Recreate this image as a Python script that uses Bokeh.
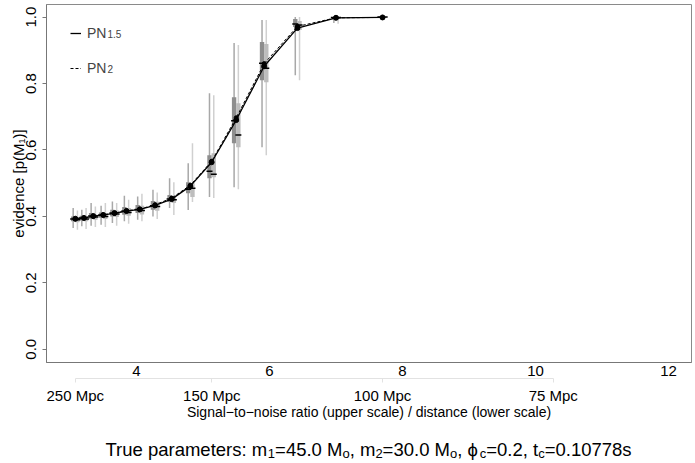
import math
from bokeh.plotting import figure
from bokeh.layouts import column
from bokeh.models import (LinearAxis, FixedTicker, Range1d, Label, Legend, LegendItem,
                          PrintfTickFormatter, ColumnDataSource)
from bokeh.transform import dodge
from bokeh.embed import file_html
from bokeh.resources import INLINE

# ---------------- data ----------------
snr = [3.08, 3.21, 3.35, 3.50, 3.67, 3.85, 4.05, 4.28, 4.53, 4.81, 5.13, 5.50, 5.92, 6.42, 7.00, 7.70]
pn15 = [0.393, 0.395, 0.401, 0.404, 0.410, 0.416, 0.421, 0.433, 0.452, 0.491, 0.563, 0.690, 0.852, 0.967, 0.998, 0.999]
pn2 = [0.392, 0.396, 0.400, 0.405, 0.409, 0.417, 0.422, 0.435, 0.455, 0.494, 0.566, 0.697, 0.860, 0.972, 0.998, 0.999]

# box statistics, PN1.5 (dark boxes)
a_lo = [0.365, 0.370, 0.372, 0.375, 0.380, 0.385, 0.390, 0.400, 0.425, 0.419, 0.458, 0.488, 0.608, 0.825, 0.982, 0.997]
a_q1 = [0.385, 0.388, 0.393, 0.396, 0.400, 0.405, 0.410, 0.420, 0.443, 0.470, 0.515, 0.620, 0.810, 0.970, 0.996, 0.999]
a_md = [0.392, 0.395, 0.401, 0.404, 0.410, 0.416, 0.421, 0.432, 0.452, 0.482, 0.536, 0.688, 0.861, 0.979, 0.999, 1.000]
a_q3 = [0.400, 0.402, 0.410, 0.412, 0.420, 0.428, 0.434, 0.446, 0.464, 0.503, 0.584, 0.759, 0.925, 0.994, 1.000, 1.000]
a_hi = [0.425, 0.420, 0.440, 0.432, 0.445, 0.462, 0.460, 0.480, 0.515, 0.560, 0.771, 0.922, 0.991, 1.000, 1.000, 1.000]
# box statistics, PN2 (light boxes)
b_lo = [0.360, 0.362, 0.368, 0.368, 0.372, 0.378, 0.385, 0.392, 0.404, 0.443, 0.455, 0.482, 0.584, 0.810, 0.980, 0.997]
b_q1 = [0.382, 0.385, 0.390, 0.392, 0.398, 0.402, 0.406, 0.417, 0.440, 0.458, 0.518, 0.608, 0.804, 0.961, 0.995, 0.999]
b_md = [0.390, 0.392, 0.398, 0.400, 0.407, 0.412, 0.418, 0.430, 0.450, 0.485, 0.527, 0.645, 0.846, 0.976, 0.999, 1.000]
b_q3 = [0.398, 0.400, 0.406, 0.410, 0.418, 0.425, 0.432, 0.444, 0.462, 0.500, 0.590, 0.741, 0.919, 0.988, 1.000, 1.000]
b_hi = [0.418, 0.425, 0.430, 0.440, 0.440, 0.450, 0.468, 0.472, 0.503, 0.620, 0.765, 0.916, 0.991, 1.000, 1.000, 1.000]

snr_ticks = [4, 6, 8, 10, 12]
y_ticks = [0.0, 0.2, 0.4, 0.6, 0.8, 1.0]
dist_snr = [3.08, 5.133, 7.70, 10.267]
dist_labels = ["250 Mpc", "150 Mpc", "100 Mpc", "75 Mpc"]

FONT = "Liberation Sans"

src = ColumnDataSource(dict(snr=snr, pn15=pn15, pn2=pn2,
                            a_lo=a_lo, a_q1=a_q1, a_md=a_md, a_q3=a_q3, a_hi=a_hi,
                            b_lo=b_lo, b_q1=b_q1, b_md=b_md, b_q3=b_q3, b_hi=b_hi))

MAIN_H = 425
p = figure(width=695, height=MAIN_H, output_backend="svg", toolbar_location=None,
           x_range=Range1d(2.647, 12.346), y_range=Range1d(-0.04, 1.038),
           min_border_left=46, min_border_right=4, min_border_top=4, min_border_bottom=63,
           x_axis_location=None, y_axis_location=None)
p.grid.visible = False
p.outline_line_color = "#8a8a8a"
p.outline_line_width = 1

# y axis
yax = LinearAxis(ticker=FixedTicker(ticks=y_ticks), formatter=PrintfTickFormatter(format="%.1f"))
yax.major_label_orientation = "vertical"
yax.major_tick_out = 4
yax.major_tick_in = 0
yax.minor_tick_out = 0
yax.minor_tick_in = 0
yax.major_label_standoff = 6
yax.axis_line_color = "#777777"
yax.major_tick_line_color = "#777777"
yax.major_label_text_font = FONT
yax.major_label_text_font_size = "15px"
yax.major_label_text_color = "black"
yax.axis_label = "evidence [p(M\u2081)]"
yax.axis_label_text_font = FONT
yax.axis_label_text_font_size = "15px"
yax.axis_label_text_font_style = "normal"
yax.axis_label_text_color = "black"
yax.axis_label_standoff = -3
p.add_layout(yax, "left")

# upper x scale (SNR)
xax = LinearAxis(ticker=FixedTicker(ticks=snr_ticks))
xax.major_tick_out = 0
xax.major_tick_in = 0
xax.minor_tick_out = 0
xax.minor_tick_in = 0
xax.axis_line_color = "#777777"
xax.major_label_standoff = 3
xax.major_label_text_font = FONT
xax.major_label_text_font_size = "15px"
xax.major_label_text_color = "black"
p.add_layout(xax, "below")

# lower x scale (distance)
dax = LinearAxis(ticker=FixedTicker(ticks=dist_snr),
                 major_label_overrides={v: t for v, t in zip(dist_snr, dist_labels)})
dax.bounds = (dist_snr[0], dist_snr[-1])
dax.axis_line_color = "#e2e2e2"
dax.major_tick_line_color = "#e2e2e2"
dax.major_tick_out = 4
dax.major_tick_in = 0
dax.minor_tick_out = 0
dax.minor_tick_in = 0
dax.major_label_standoff = 4
dax.major_label_text_font = FONT
dax.major_label_text_font_size = "15px"
dax.major_label_text_color = "black"
dax.axis_label = "Signal\u2212to\u2212noise ratio (upper scale) / distance (lower scale)"
dax.axis_label_text_font = FONT
dax.axis_label_text_font_size = "14px"
dax.axis_label_text_font_style = "normal"
dax.axis_label_text_color = "black"
dax.axis_label_standoff = -3
p.add_layout(dax, "below")

# ---------------- box plots ----------------
xa = dodge("snr", -0.032, range=p.x_range)
xb = dodge("snr", 0.032, range=p.x_range)
p.segment(x0=xa, y0="a_lo", x1=xa, y1="a_hi", source=src, line_color="#a8a8a8", line_width=1.5)
p.segment(x0=xb, y0="b_lo", x1=xb, y1="b_hi", source=src, line_color="#d0d0d0", line_width=1.5)
p.vbar(x=xa, width=0.066, bottom="a_q1", top="a_q3", source=src, fill_color="#8e8e8e", line_color=None)
p.vbar(x=xb, width=0.066, bottom="b_q1", top="b_q3", source=src, fill_color="#bdbdbd", line_color=None)
p.dash(x=xa, y="a_md", source=src, size=6, line_color="black", line_width=1.5)
p.dash(x=xb, y="b_md", source=src, size=6, line_color="black", line_width=1.5)

# ---------------- curves ----------------
l15 = p.line("snr", "pn15", source=src, line_color="black", line_width=1.3)
l2 = p.line("snr", "pn2", source=src, line_color="black", line_width=1.0, line_dash="3 2")
p.scatter("snr", "pn15", source=src, size=5, fill_color="black", line_color="black")
p.scatter("snr", "pn2", source=src, size=4, fill_color="black", line_color="black")

legend = Legend(items=[LegendItem(label="PN", renderers=[l15]), LegendItem(label="PN", renderers=[l2])],
                location=(24, 284), glyph_width=11, glyph_height=20, label_height=20, spacing=15,
                label_standoff=6, padding=0, margin=0, border_line_color=None,
                background_fill_alpha=0, label_text_font=FONT, label_text_font_size="14px")
p.add_layout(legend)

# legend superscripts
p.add_layout(Label(x=61, y=329, x_units="screen", y_units="screen", text="1.5",
                   text_font=FONT, text_font_size="10px", text_baseline="alphabetic"))
p.add_layout(Label(x=61, y=294, x_units="screen", y_units="screen", text="2",
                   text_font=FONT, text_font_size="10px", text_baseline="alphabetic"))

# ---------------- bottom title (rich text) ----------------
W = {' ': 278, '(': 333, ')': 333, ',': 278, '.': 278, '/': 278, ':': 278, '=': 584,
     '[': 278, ']': 278, 'M': 833, 'N': 722, 'P': 667, 'S': 667, 'T': 611,
     'a': 556, 'c': 500, 'd': 556, 'e': 556, 'i': 222, 'l': 222, 'm': 833, 'n': 556,
     'o': 556, 'p': 556, 'r': 333, 's': 500, 't': 278, 'u': 556, 'v': 500,
     '\u03d5': 660}


def tw(s, size):
    return sum(W.get(ch, 556) for ch in s) / 1000.0 * size


def add_runs(f, runs, x0, y0, size, sub_size, sub_dy):
    total = sum(tw(t, sub_size if s else size) for t, s in runs)
    u = x0 - total / 2.0
    for t, s in runs:
        fs = sub_size if s else size
        y = y0 - sub_dy if s else y0
        f.add_layout(Label(x=u, y=y, x_units="screen", y_units="screen", text=t,
                           text_font=FONT, text_font_size=f"{fs}px", text_align="left",
                           text_baseline="alphabetic", text_color="black"))
        u += tw(t, fs)


TH = 463 - MAIN_H
tfig = figure(width=695, height=TH, output_backend="svg", toolbar_location=None,
              x_range=Range1d(0, 1), y_range=Range1d(0, 1),
              min_border_left=0, min_border_right=0, min_border_top=0, min_border_bottom=0,
              x_axis_location=None, y_axis_location=None)
tfig.grid.visible = False
tfig.outline_line_color = None
# the column aligns this panel's frame with the plot frame (left edge at x=46)
add_runs(tfig, [("True parameters: m", 0), ("1", 1), ("=45.0 M", 0), ("o", 1), (", m", 0), ("2", 1),
                ("=30.0 M", 0), ("o", 1), (", ", 0), ("\u03d5", 0), ("c", 1), ("=0.2, t", 0), ("c", 1),
                ("=0.10778s", 0)], 322, TH - 24, 18.5, 13, 4)

layout = column(p, tfig)
open("out.html", "w").write(file_html(layout, INLINE))
